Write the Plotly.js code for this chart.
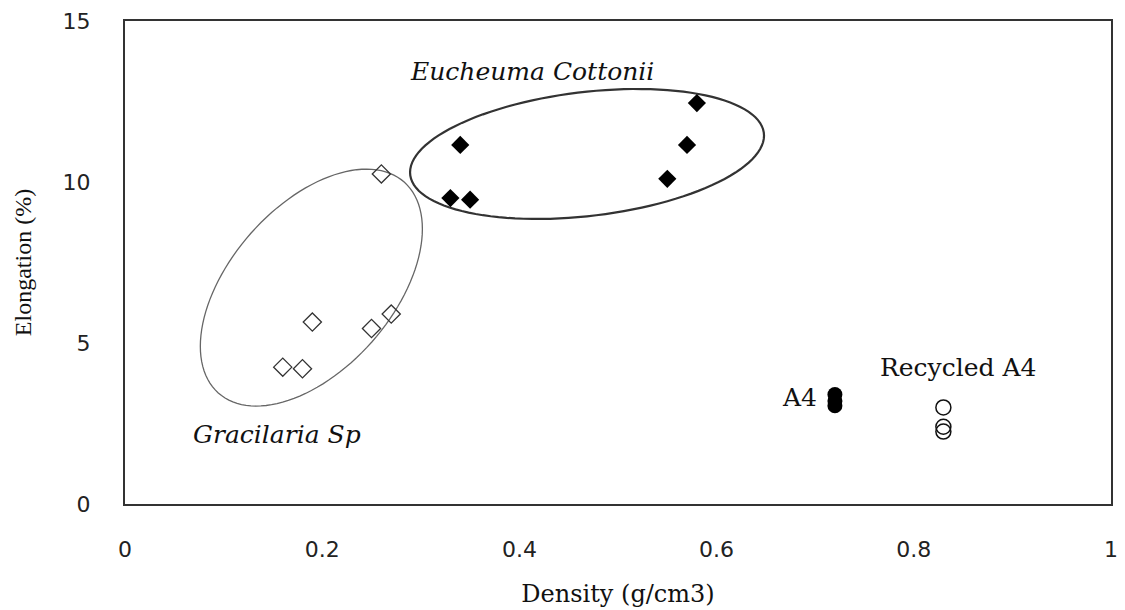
<!DOCTYPE html>
<html>
<head>
<meta charset="utf-8">
<script src="https://cdn.plot.ly/plotly-3.0.1.min.js"></script>
<style>
  html, body { margin: 0; padding: 0; background: #fff; }
  #chart { width: 1125px; height: 610px; }
</style>
</head>
<body>
<div id="chart"></div>
<script>
// ---- Data ----
const gracilariaX = [0.16, 0.18, 0.19, 0.25, 0.27, 0.26];
const gracilariaY = [4.25, 4.2, 5.65, 5.45, 5.9, 10.25];

const eucheumaX = [0.33, 0.35, 0.34, 0.55, 0.57, 0.58];
const eucheumaY = [9.5, 9.45, 11.15, 10.1, 11.15, 12.45];

const a4X = [0.72, 0.72, 0.72];
const a4Y = [3.4, 3.2, 3.05];

const recycledX = [0.83, 0.83, 0.83];
const recycledY = [3.0, 2.4, 2.25];

const xTickVals = [0, 0.2, 0.4, 0.6, 0.8, 1];
const xTickText = ['0', '0.2', '0.4', '0.6', '0.8', '1'];
const yTickVals = [0, 5, 10, 15];
const yTickText = ['0', '5', '10', '15'];

// Group ellipses: centre and two conjugate half-axis vectors, in data units
const gracilariaEllipse = { cx: 0.189, cy: 6.72, ux: 0.1126, uy: 1.823, vx: 0, vy: -3.196 };
const eucheumaEllipse  = { cx: 0.4686, cy: 10.87, ux: 0.1795, uy: 0.570, vx: 0, vy: -1.936 };

function ellipsePath(e) {
  const n = 120;
  let d = '';
  for (let i = 0; i <= n; i++) {
    const t = 2 * Math.PI * i / n;
    const x = e.cx + e.ux * Math.cos(t) + e.vx * Math.sin(t);
    const y = e.cy + e.uy * Math.cos(t) + e.vy * Math.sin(t);
    d += (i === 0 ? 'M' : 'L') + x.toFixed(5) + ',' + y.toFixed(5);
  }
  return d + 'Z';
}

const traces = [
  {
    x: gracilariaX, y: gracilariaY, type: 'scatter', mode: 'markers', name: 'Gracilaria Sp',
    marker: { symbol: 'diamond-open', size: 14, color: '#333', line: { width: 1.3, color: '#333' } }
  },
  {
    x: eucheumaX, y: eucheumaY, type: 'scatter', mode: 'markers', name: 'Eucheuma Cottonii',
    marker: { symbol: 'diamond', size: 14, color: '#000' }
  },
  {
    x: a4X, y: a4Y, type: 'scatter', mode: 'markers', name: 'A4',
    marker: { symbol: 'circle', size: 15, color: '#000' }
  },
  {
    x: recycledX, y: recycledY, type: 'scatter', mode: 'markers', name: 'Recycled A4',
    marker: { symbol: 'circle-open', size: 15, color: '#111', line: { width: 1.5, color: '#111' } }
  }
];

const serif = 'Liberation Serif, Times New Roman, serif';
const wideSerif = 'DejaVu Serif, Liberation Serif, serif';
const tickFamily = 'DejaVu Sans, sans-serif';

const layout = {
  width: 1125, height: 610,
  margin: { l: 125, r: 14, t: 21, b: 106 },
  paper_bgcolor: '#fff', plot_bgcolor: '#fff',
  showlegend: false,
  font: { family: tickFamily, color: '#222' },
  xaxis: {
    range: [0, 1], tickvals: xTickVals, ticktext: xTickText,
    showgrid: false, zeroline: false,
    showline: true, mirror: true, linecolor: '#333', linewidth: 2,
    ticks: 'outside', ticklen: 25, tickcolor: 'rgba(0,0,0,0)',
    tickfont: { family: tickFamily, size: 22, color: '#222' },
    title: { text: 'Density (g/cm3)', standoff: 24,
             font: { family: wideSerif, size: 24, color: '#111' } }
  },
  yaxis: {
    range: [0, 15], tickvals: yTickVals, ticktext: yTickText,
    showgrid: false, zeroline: false,
    showline: true, mirror: true, linecolor: '#333', linewidth: 2,
    ticks: 'outside', ticklen: 28, tickcolor: 'rgba(0,0,0,0)',
    tickfont: { family: tickFamily, size: 22, color: '#222' },
    title: { text: 'Elongation (%)', standoff: 24,
             font: { family: serif, size: 24, color: '#111' } }
  },
  shapes: [
    { type: 'path', xref: 'x', yref: 'y', path: ellipsePath(gracilariaEllipse),
      line: { color: '#666', width: 1.3 }, layer: 'below' },
    { type: 'path', xref: 'x', yref: 'y', path: ellipsePath(eucheumaEllipse),
      line: { color: '#333', width: 2.2 }, layer: 'below' }
  ],
  annotations: [
    { text: 'Eucheuma Cottonii', x: 0.413, y: 13.44, xref: 'x', yref: 'y', showarrow: false,
      font: { family: wideSerif, size: 25, style: 'italic', color: '#111' } },
    { text: 'Gracilaria Sp', x: 0.154, y: 2.15, xref: 'x', yref: 'y', showarrow: false,
      font: { family: wideSerif, size: 25, style: 'italic', color: '#111' } },
    { text: 'Recycled A4', x: 0.845, y: 4.24, xref: 'x', yref: 'y', showarrow: false,
      font: { family: wideSerif, size: 25, color: '#111' } },
    { text: 'A4', x: 0.684, y: 3.3, xref: 'x', yref: 'y', showarrow: false,
      font: { family: wideSerif, size: 25, color: '#111' } }
  ]
};

Plotly.newPlot('chart', traces, layout, { displayModeBar: false, staticPlot: true });
</script>
</body>
</html>
